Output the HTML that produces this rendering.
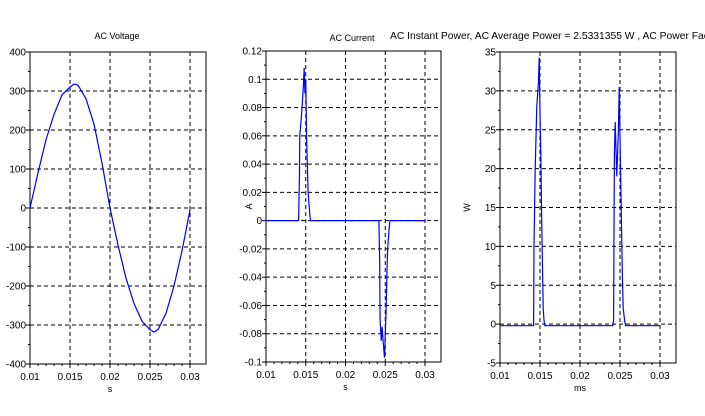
<!DOCTYPE html>
<html><head><meta charset="utf-8"><style>
html,body{margin:0;padding:0;background:#fff;overflow:hidden;}
svg{display:block;font-family:"Liberation Sans",sans-serif;}
</style></head><body>
<svg id="fig" width="705" height="416"></svg>
<script>
const voltT=[0.010,0.011,0.012,0.013,0.014,0.015,0.0155,0.016,0.017,0.018,0.019,0.020,0.021,0.022,0.023,0.024,0.025,0.0255,0.026,0.027,0.028,0.029,0.030];
const voltV=[0,90,175,240,290,310,318,315,280,215,115,0,-95,-180,-245,-290,-312,-318,-312,-270,-200,-110,-5];
const currT=[0.010,0.0141,0.0142,0.01425,0.0145,0.0147,0.0148,0.0149,0.0150,0.0151,0.0152,0.0153,0.0155,0.0156,0.0242,0.0243,0.02435,0.0245,0.0246,0.0248,0.0249,0.0250,0.0251,0.0252,0.0253,0.0255,0.0256,0.030];
const currV=[0,0,0.03,0.06,0.077,0.095,0.108,0.09,0.1,0.06,0.04,0.02,0.005,0,0,-0.03,-0.07,-0.085,-0.075,-0.09,-0.097,-0.08,-0.065,-0.04,-0.02,-0.005,0,0];
const powT=[0.010,0.0142,0.01425,0.0144,0.0146,0.0148,0.0149,0.0150,0.0151,0.0152,0.0153,0.0154,0.0155,0.0156,0.0241,0.0242,0.0243,0.0244,0.0246,0.0248,0.0249,0.0250,0.0251,0.0252,0.0253,0.0254,0.0256,0.0257,0.030];
const powV=[-0.2,-0.2,10,20,28,31,34.3,27,22,14,8,2,0.5,-0.2,-0.2,0.5,22,26,19,25,30.5,24,18,12,6,2,0.3,-0.2,-0.2];
const xTicks=[0.01,0.015,0.02,0.025,0.03];
const xTickLabels=["0.01","0.015","0.02","0.025","0.03"];
const vTicks=[-400,-300,-200,-100,0,100,200,300,400];
const cTicks=[-0.1,-0.08,-0.06,-0.04,-0.02,0,0.02,0.04,0.06,0.08,0.1,0.12];
const cTickLabels=["-0.1","-0.08","-0.06","-0.04","-0.02","0","0.02","0.04","0.06","0.08","0.1","0.12"];
const pTicks=[-5,0,5,10,15,20,25,30,35];

const NS="http://www.w3.org/2000/svg";
const svg=document.getElementById('fig');
function mk(tag,attrs,parent){const e=document.createElementNS(NS,tag);for(const k in attrs)e.setAttribute(k,attrs[k]);(parent||svg).appendChild(e);return e;}

function panel(cfg){
  const g=mk('g',{});
  
  
  const {x0,x1,y0,y1,ymin,ymax}=cfg;
  const sx=t=>x0+(t-0.01)/0.02*cfg.xw;
  const sy=v=>y1-(v-ymin)/(ymax-ymin)*(y1-y0);
  xTicks.forEach(t=>{if(t>0.01){const l=mk('line',{x1:sx(t),x2:sx(t),y1:y0,y2:y1,stroke:'#000','stroke-dasharray':'4,3','stroke-width':1},g);}});
  cfg.yTicks.forEach(v=>{if(v>ymin&&v<ymax){const l=mk('line',{x1:x0,x2:x1,y1:sy(v),y2:sy(v),stroke:'#000','stroke-dasharray':'4,3','stroke-width':1},g);}});
  const r=mk('rect',{x:x0,y:y0,width:x1-x0,height:y1-y0,fill:'none',stroke:'#000','stroke-width':1},g);
  
  xTicks.forEach((t,i)=>{
    mk('line',{x1:sx(t),x2:sx(t),y1:y1,y2:y1+4,stroke:'#000'},g);
    const tx=mk('text',{x:sx(t),y:y1+16,'font-size':10,'text-anchor':'middle'},g);
    tx.textContent=xTickLabels[i];
    
    if(i<xTicks.length-1){for(let k=1;k<5;k++){const m=t+k*0.001;mk('line',{x1:sx(m),x2:sx(m),y1:y1,y2:y1+2,stroke:'#000'},g);}}
  });
  cfg.yTicks.forEach((v,i)=>{
    mk('line',{x1:x0-4,x2:x0,y1:sy(v),y2:sy(v),stroke:'#000'},g);
    const tx=mk('text',{x:x0-4,y:sy(v)+3.5,'font-size':10,'text-anchor':'end'},g);
    tx.textContent=cfg.yLabels[i];
    
    if(i<cfg.yTicks.length-1){const mv=(v+cfg.yTicks[i+1])/2;mk('line',{x1:x0-2,x2:x0,y1:sy(mv),y2:sy(mv),stroke:'#000'},g);}
  });
  const d=cfg.t.map((t,i)=>(i?'L':'M')+sx(t).toFixed(2)+','+sy(cfg.v[i]).toFixed(2)).join('');
  const p=mk('path',{d:d,fill:'none',stroke:'#0000ff','stroke-width':1.2},g);
  
  const xl=mk('text',{x:sx(0.02),y:y1+28,'font-size':9,'text-anchor':'middle'},g);
  xl.textContent=cfg.xlabel;
  if(cfg.ylabel){const cy=(y0+y1)/2;const yl=mk('text',{x:cfg.ylx,y:cy,'font-size':9,'text-anchor':'middle',transform:`rotate(-90 ${cfg.ylx} ${cy})`},g);
    yl.textContent=cfg.ylabel;}
  const ti=mk('text',{x:cfg.titleX,y:cfg.titleY,'font-size':cfg.titleSize||9,'text-anchor':cfg.titleAnchor||'middle'},g);
  ti.textContent=cfg.title;
}
panel({name:'ac-voltage-chart',x0:30,x1:206,xw:160,y0:52,y1:364,ymin:-400,ymax:400,yTicks:vTicks,yLabels:vTicks.map(String),t:voltT,v:voltV,xlabel:'s',title:'AC Voltage',titleX:117,titleY:39});
panel({name:'ac-current-chart',x0:266,x1:441,xw:159,y0:51,y1:362,ymin:-0.1,ymax:0.12,yTicks:cTicks,yLabels:cTickLabels,t:currT,v:currV,xlabel:'s',ylabel:'A',ylx:252,title:'AC Current',titleX:352,titleY:41});
panel({name:'ac-power-chart',x0:500,x1:676,xw:160,y0:52,y1:363,ymin:-5,ymax:35,yTicks:pTicks,yLabels:pTicks.map(String),t:powT,v:powV,xlabel:'ms',ylabel:'W',ylx:470,title:'AC Instant Power, AC Average Power = 2.5331355 W , AC Power Factor',titleX:390,titleY:39,titleAnchor:'start',titleSize:10.3});
</script>
</body></html>
